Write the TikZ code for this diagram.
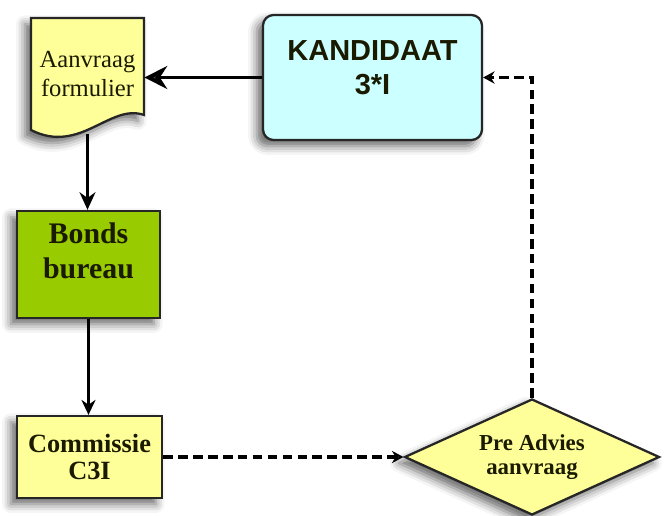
\documentclass[tikz,border=0pt]{standalone}
\usepackage{fontspec}
\setmainfont{Liberation Serif}
\newfontfamily\arialfont{Liberation Sans}
\usetikzlibrary{arrows.meta,shapes.geometric,shadows.blur}

\definecolor{formyellow}{HTML}{FFFF99}
\definecolor{kandcyan}{HTML}{CCFFFF}
\definecolor{bondsgreen}{HTML}{99CC00}
\definecolor{inkdark}{HTML}{1A1A00}

\tikzset{
  softshadow/.style={blur shadow={shadow xshift=-3.5pt,shadow yshift=-3.5pt,
      shadow blur radius=5pt,shadow opacity=60}},
  flowbox/.style={draw=black!85,line width=1.3pt,align=center,inner sep=0pt,
      text=inkdark,softshadow},
  flow/.style={line width=2.2pt,-{Stealth[length=10pt,width=9pt]}},
  dashflow/.style={line width=2pt,dash pattern=on 5.5pt off 3pt,
      -{Stealth[length=6.5pt,width=7pt]}},
}

\begin{document}
\begin{tikzpicture}[x=0.02cm,y=0.02cm]
  \def\u{0.02cm} % one pixel of the 664 x 515 canvas
  \useasboundingbox (0,0) rectangle (664,515);

  %---------------------------------------
  % left column: formulier, bonds bureau, commissie
  % document shape with wavy bottom
  \draw[draw=black!85,line width=1.3pt,fill=formyellow,softshadow]
    (31,497) -- (144,497) -- (144,400)
    .. controls (110,412) and (80,360) .. (31,385) -- cycle;
  \node[align=center,inner sep=0pt,text=inkdark,
        minimum width=113*\u,minimum height=112*\u,
        font=\fontsize{14}{16}\selectfont] (form) at (87.5,441)
        {Aanvraag\\formulier};

  \node[flowbox,fill=bondsgreen,minimum width=143*\u,minimum height=107*\u,
        text depth=16pt,font=\bfseries\fontsize{17}{20}\selectfont]
        (bonds) at (88.5,250.5) {Bonds\\bureau};

  \node[flowbox,fill=formyellow,minimum width=145*\u,minimum height=82*\u,
        font=\bfseries\fontsize{15}{15}\selectfont]
        (comm) at (89.5,58) {Commissie\\C3I};

  %---------------------------------------
  % right side: kandidaat and pre advies
  \node[flowbox,fill=kandcyan,rounded corners=6pt,
        minimum width=219*\u,minimum height=125*\u,text height=20pt,
        font=\arialfont\bfseries\fontsize{16.5}{19.5}\selectfont]
        (kand) at (372.5,437.5) {KANDIDAAT\\3*I};

  \node[flowbox,fill=formyellow,diamond,aspect=2.2,
        minimum width=255*\u,minimum height=116*\u,
        font=\bfseries\fontsize{13}{14}\selectfont]
        (adv) at (532,58) {Pre Advies\\aanvraag};

  %---------------------------------------
  % connectors
  \draw[flow,-{Stealth[length=13pt,width=13pt]}] (kand.west) -- (kand.west -| form.east);
  \draw[flow] ([yshift=-2pt]form.south) -- (form.south |- bonds.north);
  \draw[flow,-{Stealth[length=8.5pt,width=8pt]}] (bonds.south) -- (bonds.south |- comm.north);
  \draw[dashflow] (comm.east) -- (adv.west);
  \draw[dashflow] (adv.north) |- (kand.east);
\end{tikzpicture}
\end{document}
